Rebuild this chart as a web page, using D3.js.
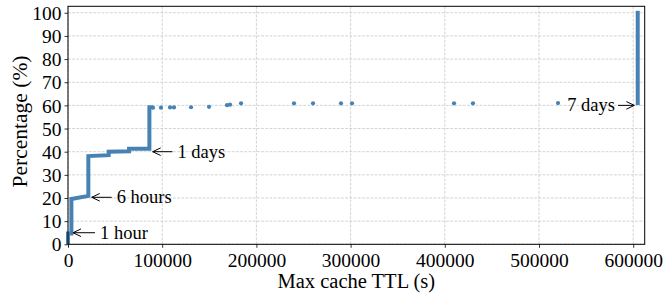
<!DOCTYPE html>
<html>
<head>
  <meta charset="utf-8">
  <title>Max cache TTL</title>
  <style>
    body { margin: 0; background: #fff; }
    text { font-family: "Liberation Serif", "Times New Roman", serif; }
  </style>
</head>
<body>
  <script src="https://cdn.jsdelivr.net/npm/d3@7"></script>
  <script>

      // dense part of the CDF (drawn as a thick line)
      var stepX = [0, 0, 3600, 3600, 21600, 21600, 43200, 43200, 64800, 64800, 86400, 86400, 90000];
      var stepY = [0, 4.7, 4.7, 19.6, 20.9, 38.1, 38.5, 40.0, 40.2, 41.3, 41.3, 59.2, 59.2];

      // sparse points between 1 day and 7 days
      var dotX = [90200, 98700, 108300, 112500, 130600, 149700, 168800, 172000, 183700,
                  239900, 260100, 289800, 301500, 409800, 429900, 520200];
      var dotY = [59.0, 59.0, 59.1, 59.1, 59.2, 59.4, 60.1, 60.3, 60.9,
                  60.9, 60.9, 60.9, 60.9, 60.9, 60.9, 61.0];

      // jump at 7 days
      var weekX = [604800, 604800];
      var weekY = [61.0, 100];

      var xTicks = [0, 100000, 200000, 300000, 400000, 500000, 600000];
      var yTicks = [0, 10, 20, 30, 40, 50, 60, 70, 80, 90, 100];

      var annText = ["1 hour", "6 hours", "1 days", "7 days"];
      var annX = [5300, 25200, 89900, 601200];     // arrow tip
      var annY = [5, 20.3, 40, 60];
      var annTextX = [34000, 51700, 116200, 580700];

      var w = 663;
      var h = 294;
      var m = {left: 68, right: 18.3, top: 6.3, bottom: 49.7};

      var svg = d3.select("body").append("svg").attr("width", w).attr("height", h);

      var x = d3.scaleLinear().domain([0, 612200]).range([m.left, w - m.right]);
      var y = d3.scaleLinear().domain([0, 102.8]).range([h - m.bottom, m.top]);

      // grid
      svg.append("g").selectAll("line").data(yTicks).enter().append("line")
        .attr("x1", m.left).attr("x2", w - m.right)
        .attr("y1", function(d){ return y(d); }).attr("y2", function(d){ return y(d); })
        .attr("stroke", "#c8c8c8").attr("stroke-width", 0.8).attr("stroke-dasharray", "2.8,1.4");
      svg.append("g").selectAll("line").data(xTicks).enter().append("line")
        .attr("y1", m.top).attr("y2", h - m.bottom)
        .attr("x1", function(d){ return x(d); }).attr("x2", function(d){ return x(d); })
        .attr("stroke", "#c8c8c8").attr("stroke-width", 0.8).attr("stroke-dasharray", "2.8,1.4");

      var color = "#4682b4";

      var line = d3.line().x(function(d){ return x(d[0]); }).y(function(d){ return y(d[1]); });

      svg.append("path")
        .datum(d3.zip(stepX, stepY))
        .attr("d", line)
        .attr("fill", "none").attr("stroke", color).attr("stroke-width", 4)
        .attr("stroke-linejoin", "miter");

      svg.append("path")
        .datum(d3.zip(weekX, weekY))
        .attr("d", line)
        .attr("fill", "none").attr("stroke", color).attr("stroke-width", 4)
        .attr("stroke-linecap", "square");

      svg.append("g").selectAll("circle").data(d3.zip(dotX, dotY)).enter().append("circle")
        .attr("cx", function(d){ return x(d[0]); })
        .attr("cy", function(d){ return y(d[1]); })
        .attr("r", 2.1)
        .attr("fill", color);

      // annotations
      var ann = svg.append("g");
      annText.forEach(function(t, i){
        var tip = x(annX[i]), ty = y(annY[i]), tx = x(annTextX[i]);
        var right = tx > tip;
        var tail = right ? tx - 5 : tx + 3;
        ann.append("line")
          .attr("x1", tail).attr("x2", tip).attr("y1", ty).attr("y2", ty)
          .attr("stroke", "#000").attr("stroke-width", 1);
        var dir = right ? 1 : -1;
        ann.append("path")
          .attr("d", "M" + (tip + dir * 8) + "," + (ty - 3.8) + "L" + tip + "," + ty + "L" + (tip + dir * 8) + "," + (ty + 3.8))
          .attr("fill", "none").attr("stroke", "#000").attr("stroke-width", 1);
        ann.append("text")
          .attr("x", tx).attr("y", ty + 6)
          .attr("text-anchor", right ? "start" : "end")
          .style("font-size", "18.5px")
          .text(t);
      });

      // axes
      var xAxis = svg.append("g").attr("transform", "translate(0," + (h - m.bottom) + ")")
        .call(d3.axisBottom(x).tickValues(xTicks).tickFormat(d3.format("d")).tickSizeOuter(0).tickSize(3.5).tickPadding(5));
      var yAxis = svg.append("g").attr("transform", "translate(" + m.left + ",0)")
        .call(d3.axisLeft(y).tickValues(yTicks).tickSizeOuter(0).tickSize(3.5).tickPadding(3));
      [xAxis, yAxis].forEach(function(a){
        a.select(".domain").remove();
        a.selectAll("text").style("font-size", "19.5px").attr("fill", "#000").style("font-family", "Liberation Serif");
        a.selectAll("line").attr("stroke", "#000").attr("stroke-width", 0.8);
      });
      yAxis.selectAll("text").attr("dy", "0.34em");

      // frame
      svg.append("rect")
        .attr("x", m.left).attr("y", m.top)
        .attr("width", w - m.left - m.right).attr("height", h - m.top - m.bottom)
        .attr("fill", "none").attr("stroke", "#000").attr("stroke-width", 1);

      svg.append("text")
        .attr("x", (m.left + w - m.right) / 2).attr("y", 288.3)
        .attr("text-anchor", "middle")
        .style("font-size", "20.5px")
        .text("Max cache TTL (s)");

      svg.append("text")
        .attr("transform", "translate(26.7," + 121.5 + ") rotate(-90)")
        .attr("text-anchor", "middle")
        .style("font-size", "21.5px")
        .text("Percentage (%)");

  </script>
</body>
</html>
